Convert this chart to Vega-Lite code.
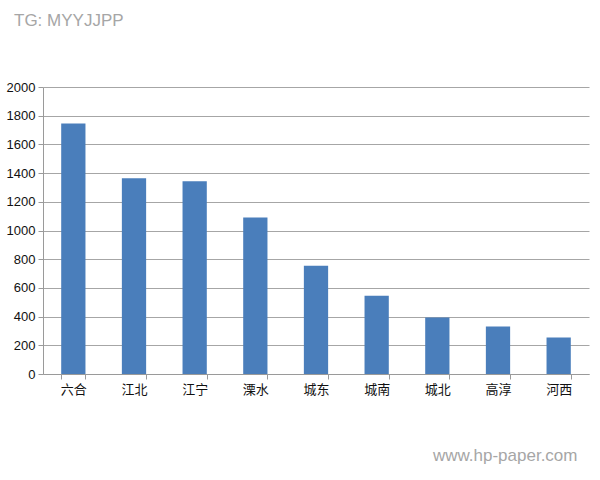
{
  "$schema": "https://vega.github.io/schema/vega-lite/v6.json",
  "autosize": {"type": "none"},
  "width": 546,
  "height": 287,
  "padding": {"left": 43, "top": 87, "right": 11, "bottom": 106},
  "background": "white",
  "title": {
    "text": "TG: MYYJJPP",
    "anchor": "start",
    "frame": "group",
    "dx": -29,
    "offset": 51,
    "font": "Liberation Sans",
    "fontSize": 17,
    "fontWeight": "normal",
    "color": "#a6a6a6"
  },
  "data": {
    "values": [
      {"district": "六合", "value": 1745},
      {"district": "江北", "value": 1364},
      {"district": "江宁", "value": 1343},
      {"district": "溧水", "value": 1090},
      {"district": "城东", "value": 755},
      {"district": "城南", "value": 545},
      {"district": "城北", "value": 394},
      {"district": "高淳", "value": 331},
      {"district": "河西", "value": 254}
    ]
  },
  "config": {
    "view": {"stroke": null},
    "axis": {
      "labelFont": "Noto Sans CJK SC",
      "labelFontSize": 13,
      "labelColor": "#111111",
      "domainColor": "#9a9a9a",
      "tickColor": "#9a9a9a",
      "gridColor": "#a6a6a6"
    }
  },
  "mark": {"type": "bar", "color": "#4a7ebb"},
  "encoding": {
    "x": {
      "field": "district",
      "type": "nominal",
      "sort": null,
      "scale": {"paddingInner": 0.6, "paddingOuter": 0.3},
      "axis": {
        "title": "www.hp-paper.com",
        "titleFont": "Liberation Sans",
        "titleFontSize": 17,
        "titleFontWeight": "normal",
        "titleColor": "#a6a6a6",
        "titleAlign": "right",
        "titleAnchor": null,
        "titleX": 534,
        "titleY": 81,
        "titleBaseline": "middle",
        "labelAngle": 0,
        "labelPadding": 4,
        "ticks": true,
        "tickSize": 5,
        "tickBand": "extent"
      }
    },
    "y": {
      "field": "value",
      "type": "quantitative",
      "scale": {"domain": [0, 2000]},
      "axis": {
        "title": null,
        "values": [0, 200, 400, 600, 800, 1000, 1200, 1400, 1600, 1800, 2000],
        "format": "d",
        "tickSize": 5,
        "labelPadding": 3,
        "labelFont": "Liberation Sans",
        "labelFontSize": 13
      }
    }
  }
}
